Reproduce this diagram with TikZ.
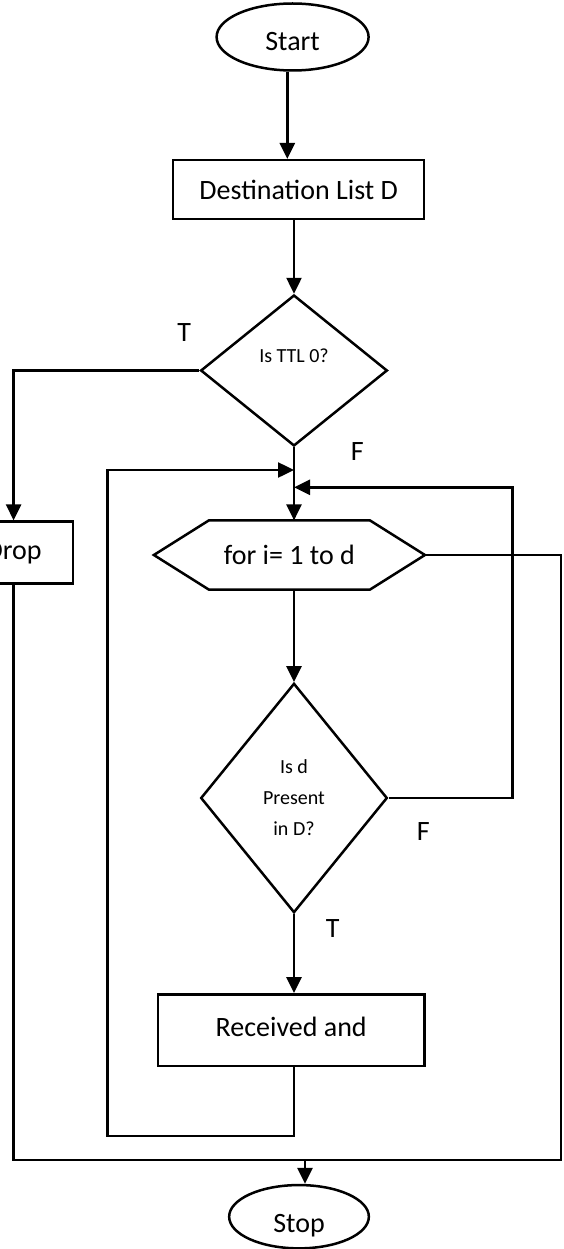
\documentclass[tikz,border=0pt]{standalone}
\usepackage{fontspec}
\setmainfont{Carlito}
\usetikzlibrary{arrows.meta,shapes.geometric}
\begin{document}
\begin{tikzpicture}[x=1pt,y=-1pt,
  line width=2.5pt,
  every node/.style={font=\fontsize{28}{34}\selectfont, inner sep=0pt},
  box/.style={draw, rectangle},
  term/.style={draw, ellipse},
  dec/.style={draw, diamond, font=\fontsize{20}{31}\selectfont, align=center},
  arr/.style={-{Triangle[width=15pt,length=16pt]}},
  lbl/.style={font=\fontsize{28}{34}\selectfont}]
\useasboundingbox (0,0) rectangle (563,1249);
\clip (0,0) rectangle (563,1249);
% nodes
\node[term, minimum width=152, minimum height=67, text height=28pt] (start) at (292.6,37) {Start};
\node[box, minimum width=251, minimum height=59] (dest) at (298.7,189.7) {Destination List D};
\node[dec, minimum width=186.7, minimum height=151, text depth=30pt] (d1) at (294,370.5) {Is TTL 0?};
\node[box, minimum width=118.6, minimum height=61.7] (drop) at (13.6,552.5) {Drop};
\node[minimum width=268.6, minimum height=66.7] (loop) at (289.4,555) {for i= 1 to d};
\draw (loop.west) -- ([xshift=55pt]loop.north west) -- ([xshift=-55pt]loop.north east)
  -- (loop.east) -- ([xshift=-55pt]loop.south east) -- ([xshift=55pt]loop.south west) -- cycle;
\node[dec, minimum width=186.6, minimum height=229.4] (d2) at (294,798) {Is d\\Present\\in D?};
\node[box, minimum width=266.4, minimum height=71.7, text depth=7pt] (recv) at (291.2,1030.2) {Received and};
\node[term, minimum width=139.7, minimum height=63.3, text height=37pt] (stop) at (299,1216.7) {Stop};
% labels
\node[lbl] (t1) at (184.2,332.7) {T};
\node[lbl] (f1) at (357.3,451.7) {F};
\node[lbl] (f2) at (423.3,831.7) {F};
\node[lbl] (t2) at (332.7,928.3) {T};
% helper coordinates
\coordinate (rt) at (512.3,487.3);
\coordinate (ml) at (107.7,470);
\coordinate (lb) at (107.7,1136);
\coordinate (ro) at (560.9,1160);
% connectors
\draw[arr] ([xshift=-5.3pt]start.south) -- ([xshift=-5.3pt]start.south |- dest.north);
\draw[arr] (d1.north |- dest.south) -- (d1.north);
\draw[arr] (d1.west) -| (drop.north);
\draw[arr] (d1.south) -- (d1.south |- loop.north);
\draw[arr] (d1.south |- loop.south) -- (d2.north);
\draw[arr] (d2.south) -- (d2.south |- recv.north);
\draw[arr] (d2.east) -| (rt) -- (rt -| d1.south);
\draw[arr] (d2.south |- recv.south) |- (lb) -- (ml) -- (ml -| d1.south);
\draw (loop.east) -| (ro) -- (ro -| drop.south) -- (drop.south);
\draw[arr] ([xshift=6pt]stop.north |- ro) -- ([xshift=6pt]stop.north);
\end{tikzpicture}
\end{document}
